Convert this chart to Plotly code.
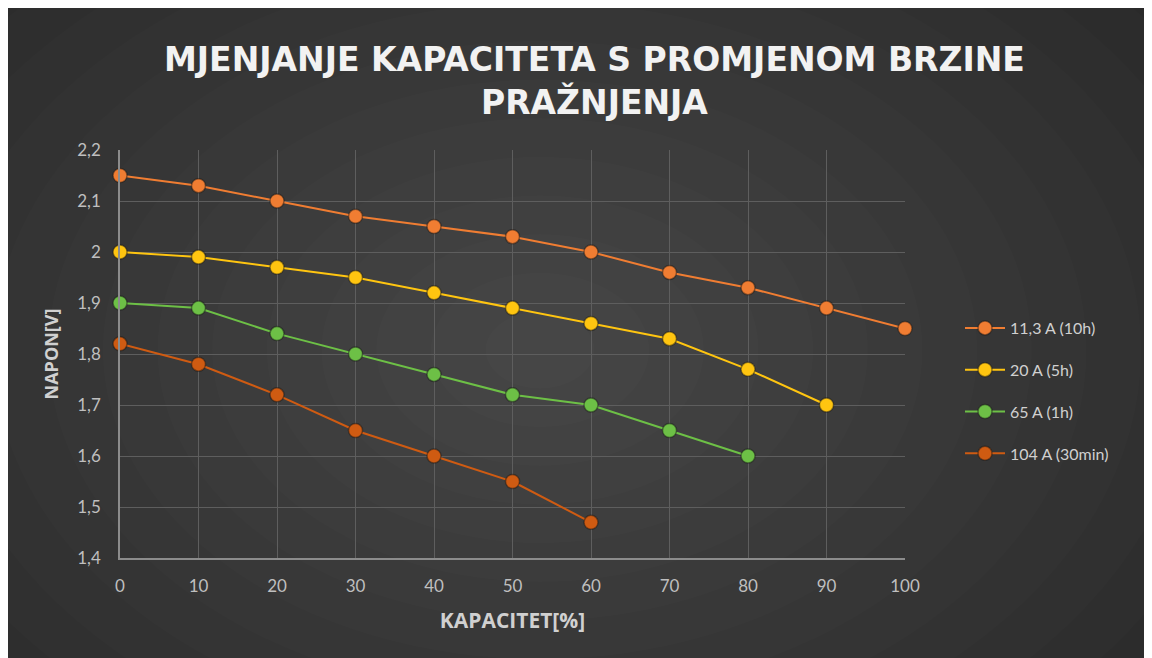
import plotly.graph_objects as go

# ---- data ----
kapacitet = [0, 10, 20, 30, 40, 50, 60, 70, 80, 90, 100]
s1_name = "11,3 A (10h)"
s1_vals = [2.15, 2.13, 2.10, 2.07, 2.05, 2.03, 2.00, 1.96, 1.93, 1.89, 1.85]
s2_name = "20 A (5h)"
s2_vals = [2.00, 1.99, 1.97, 1.95, 1.92, 1.89, 1.86, 1.83, 1.77, 1.70]
s3_name = "65 A (1h)"
s3_vals = [1.90, 1.89, 1.84, 1.80, 1.76, 1.72, 1.70, 1.65, 1.60]
s4_name = "104 A (30min)"
s4_vals = [1.82, 1.78, 1.72, 1.65, 1.60, 1.55, 1.47]
y_tickvals = [1.4, 1.5, 1.6, 1.7, 1.8, 1.9, 2.0, 2.1, 2.2]
y_ticktext = ["1,4", "1,5", "1,6", "1,7", "1,8", "1,9", "2", "2,1", "2,2"]
x_tickvals = [0, 10, 20, 30, 40, 50, 60, 70, 80, 90, 100]

W, H = 1152, 658
OFF = 8  # page margin offset
ML, MT = 120 - OFF, 150 - OFF
PR, PB = 905 - OFF, 558 - OFF
MR, MB = W - PR, H - PB
PW, PH = PR - ML, PB - MT


def px_x(p):  # p in screenshot pixels
    return (p - OFF - ML) / PW


def px_y(p):
    return 1 - (p - OFF - MT) / PH


series = [
    (s1_name, s1_vals, "#F07D32"),
    (s2_name, s2_vals, "#FFC510"),
    (s3_name, s3_vals, "#6DC046"),
    (s4_name, s4_vals, "#CF5B12"),
]

fig = go.Figure()
for name, vals, col in series:
    fig.add_trace(go.Scatter(
        x=kapacitet[:len(vals)], y=vals, name=name, mode="lines+markers",
        legendgroup=name,
        line=dict(color=col, width=2),
        marker=dict(size=14, color=col, line=dict(color="rgba(20,20,20,0.45)", width=1.5)),
        cliponaxis=False,
    ))

shapes = []
# radial gradient approximation
cx, cy = 540, 350
n = 15
for i in range(n):
    f = 1 - i / n
    rx, ry = 820 * f, 580 * f
    shapes.append(dict(type="circle", xref="paper", yref="paper", layer="below",
                       x0=px_x(cx - rx), x1=px_x(cx + rx),
                       y0=px_y(cy + ry), y1=px_y(cy - ry),
                       fillcolor="rgba(255,255,255,0.01)", line=dict(width=0)))

fig.add_annotation(
    text="<b>MJENJANJE KAPACITETA S PROMJENOM BRZINE<br>PRAŽNJENJA</b>",
    xref="paper", yref="paper", x=px_x(594), y=px_y(81),
    xanchor="center", yanchor="middle", showarrow=False,
    font=dict(family="DejaVu Sans, sans-serif", size=33, color="#F2F2F2"),
)

fig.update_layout(
    width=W, height=H,
    margin=dict(l=ML, r=MR, t=MT, b=MB),
    paper_bgcolor="#282828",
    plot_bgcolor="rgba(0,0,0,0)",
    shapes=shapes,
    font=dict(family="Lato, sans-serif", color="#BFBFBF", size=17),
    xaxis=dict(
        range=[0, 100], tickvals=x_tickvals, showgrid=True, gridcolor="#5E5E5E",
        gridwidth=1, zeroline=False, showline=True, linecolor="#8C8C8C", linewidth=1.5,
        ticks="", tickfont=dict(size=17, color="#BFBFBF"), ticklabelstandoff=12,
        title=dict(text="<b>KAPACITET[%]</b>",
                   font=dict(family="Open Sans, sans-serif", size=21, color="#D0D0D0"),
                   standoff=18),
    ),
    yaxis=dict(
        range=[1.4, 2.2], tickvals=y_tickvals, ticktext=y_ticktext, showgrid=True,
        gridcolor="#5E5E5E", gridwidth=1, zeroline=False, showline=True,
        linecolor="#8C8C8C", linewidth=1.5, ticks="", tickfont=dict(size=17, color="#BFBFBF"),
        ticklabelstandoff=14,
        title=dict(text="<b>NAPON[V]</b>",
                   font=dict(family="Open Sans, sans-serif", size=18, color="#D0D0D0"),
                   standoff=14),
    ),
    legend=dict(
        x=px_x(960), xanchor="left", y=px_y(311), yanchor="top",
        bgcolor="rgba(0,0,0,0)", font=dict(size=16, color="#D0D0D0"),
        tracegroupgap=18, itemwidth=40,
    ),
)
fig.write_html("out.html")
